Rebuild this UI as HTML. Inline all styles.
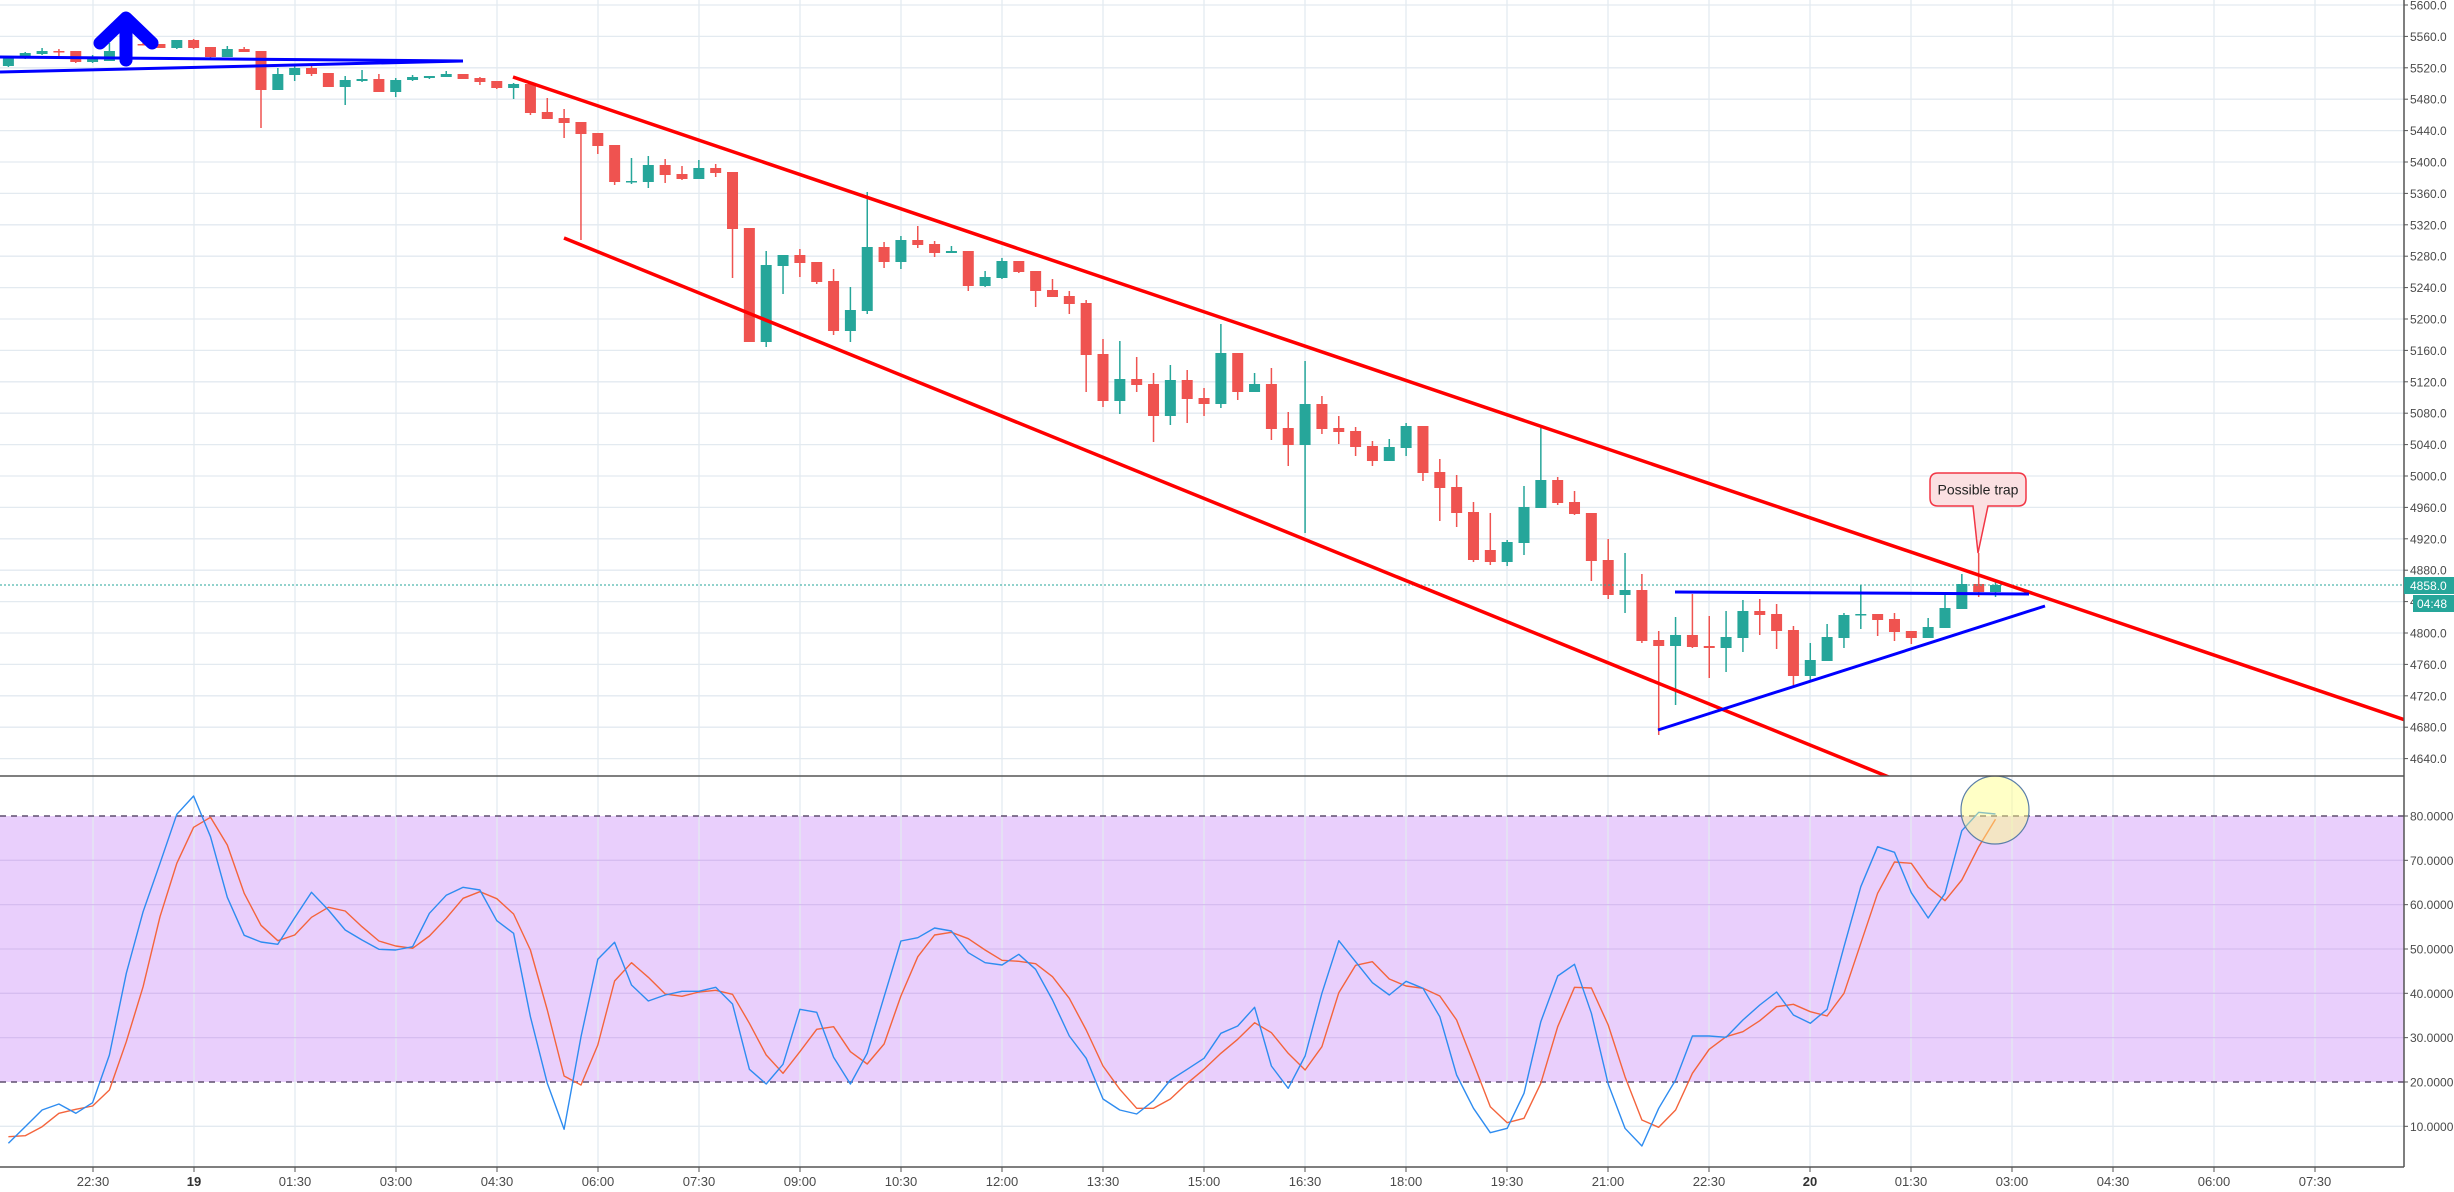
<!DOCTYPE html>
<html><head><meta charset="utf-8">
<style>
html,body{margin:0;padding:0;background:#fff;}
svg{display:block;font-family:"Liberation Sans",Arial,sans-serif;}
</style></head>
<body>
<svg id="c" width="2454" height="1192" xmlns="http://www.w3.org/2000/svg"></svg>
<script>
var s='';
var PX=function(p){return 476+(5000-p)*0.785;};
var SY=function(v){return 816+(80-v)*4.433;};
s+='<rect x="0" y="816" width="2404" height="266" fill="#e9cffc"/>';
for(var i=0;i<23;i++){var x=93+101*i;
 s+='<line x1="'+x+'" y1="0" x2="'+x+'" y2="1167" stroke="#e3eaf0" stroke-width="1.3"/>';}
for(var p=5600;p>=4640;p-=40){var y=PX(p);
 s+='<line x1="0" y1="'+y+'" x2="2404" y2="'+y+'" stroke="#e3eaf0" stroke-width="1.3"/>';
 s+='<line x1="2404" y1="'+y+'" x2="2408" y2="'+y+'" stroke="#555"/>';
 s+='<text x="2410" y="'+(y+4.5)+'" font-size="12" fill="#4a4a4a">'+p.toFixed(1)+'</text>';}
for(var v=10;v<=80;v+=10){var y=SY(v);
 if(v<80&&v>20) s+='<line x1="0" y1="'+y+'" x2="2404" y2="'+y+'" stroke="#d6bdf0" stroke-width="1.3"/>';
 if(v==10) s+='<line x1="0" y1="'+y+'" x2="2404" y2="'+y+'" stroke="#e3eaf0" stroke-width="1.3"/>';
 s+='<line x1="2404" y1="'+y+'" x2="2408" y2="'+y+'" stroke="#555"/>';
 s+='<text x="2410" y="'+(y+4.5)+'" font-size="12" fill="#4a4a4a">'+v.toFixed(4)+'</text>';}
s+='<line x1="0" y1="816" x2="2404" y2="816" stroke="#5f4f6e" stroke-width="1.5" stroke-dasharray="6,5"/>';
s+='<line x1="0" y1="1082" x2="2404" y2="1082" stroke="#5f4f6e" stroke-width="1.5" stroke-dasharray="6,5"/>';
var C=[[57,66,56,67,1],[53,58,52,59,1],[51,54,48,55,1],[51,52,49,56,0],[51,62,51,63,0],[59,62,55,63,1],[51,61,43,61,1],[44,52,40,53,1],[44,45,43,45,0],[44,48,44,48,0],
[40,48,40,49,1],[40,48,39,49,0],[47,57,47,58,0],[49,57,46,57,1],[49,52,47,52,0],[51,90,51,128,0],[74,90,68,90,1],[68,75,65,81,1],[68,74,66,76,0],[73,87,73,87,0],
[80,87,76,105,1],[79,81,70,82,1],[79,92,74,92,0],[80,92,78,97,1],[77,80,75,81,1],[76,78,76,79,1],[74,77,71,77,1],[74,79,74,79,0],[78,82,77,85,0],[81,88,81,89,0],
[84,88,83,99,1],[84,113,84,115,0],[112,119,98,119,0],[118,123,109,138,0],[122,134,122,240,0],[133,146,133,154,0],[145,182,145,185,0],[181,182,158,184,1],[165,182,156,188,1],[165,175,159,183,0],
[174,179,166,180,0],[168,179,160,179,1],[168,173,164,177,0],[172,229,172,278,0],[228,342,228,342,0],[265,342,251,347,1],[255,266,255,294,1],[255,263,249,277,0],[262,282,262,284,0],[281,331,269,335,0],
[310,331,287,342,1],[247,311,192,314,1],[247,262,242,268,0],[240,262,236,269,1],[240,245,226,248,0],[244,253,241,257,0],[251,253,246,253,1],[251,286,251,291,0],[277,286,271,287,1],[261,278,258,279,1],
[261,272,261,273,0],[271,291,271,307,0],[290,297,279,297,0],[296,304,291,314,0],[303,355,300,392,0],[354,401,339,407,0],[379,401,341,414,1],[379,385,357,392,0],[384,416,373,442,0],[380,416,365,425,1],
[380,399,370,423,0],[398,404,388,416,0],[353,404,324,408,1],[353,392,353,400,0],[384,392,373,392,1],[384,429,368,440,0],[428,445,412,466,0],[404,445,361,533,1],[404,429,396,434,0],[428,432,416,444,0],
[431,447,427,456,0],[446,461,441,466,0],[447,461,439,461,1],[426,448,423,456,1],[426,473,426,481,0],[472,488,459,521,0],[487,513,475,527,0],[512,560,502,562,0],[550,562,513,565,0],[542,562,540,566,1],
[507,543,486,555,1],[480,508,428,508,1],[480,503,477,505,0],[502,514,491,515,0],[513,561,513,581,0],[560,595,539,599,0],[590,595,553,613,1],[590,641,574,643,0],[640,646,631,735,0],[635,646,617,705,1],
[635,647,594,648,0],[646,648,616,678,0],[637,648,611,672,1],[611,638,600,652,1],[611,615,599,635,0],[614,631,604,649,0],[630,676,626,687,0],[660,676,643,681,1],[637,661,624,661,1],[615,638,613,648,1],
[614,615,585,629,1],[614,620,614,636,0],[619,632,613,641,0],[631,638,631,644,0],[627,638,618,638,1],[608,628,592,628,1],[584,609,574,609,1],[584,592,553,597,0],[585,592,580,597,1]];
for(var i=0;i<C.length;i++){var c=C[i],x=8.4+16.84*i,col=c[4]?'#26a69a':'#ef5350';
 s+='<line x1="'+x+'" y1="'+c[2]+'" x2="'+x+'" y2="'+c[3]+'" stroke="'+col+'" stroke-width="1.5"/>';
 var h=Math.max(c[1]-c[0],1.5);
 s+='<rect x="'+(x-5.5)+'" y="'+c[0]+'" width="11" height="'+h+'" fill="'+col+'"/>';}
s+='<line x1="0" y1="585" x2="2404" y2="585" stroke="#26a69a" stroke-width="1" stroke-dasharray="2,2"/>';
s+='<clipPath id="mp"><rect x="0" y="0" width="2404" height="776"/></clipPath>';
s+='<g clip-path="url(#mp)">';
s+='<line x1="513" y1="77" x2="2404" y2="719.6" stroke="#ff0000" stroke-width="3.5"/>';
s+='<line x1="564" y1="238" x2="1900" y2="781.6" stroke="#ff0000" stroke-width="3.5"/>';
s+='</g>';
s+='<line x1="1675" y1="592" x2="2029" y2="594" stroke="#0000ff" stroke-width="3"/>';
s+='<line x1="1658" y1="730" x2="2045" y2="606" stroke="#0000ff" stroke-width="3"/>';
s+='<line x1="0" y1="57" x2="463" y2="61" stroke="#0000ff" stroke-width="3"/>';
s+='<line x1="0" y1="72" x2="463" y2="61" stroke="#0000ff" stroke-width="3"/>';
s+='<g stroke="#0000ff" stroke-width="13" stroke-linecap="round" stroke-linejoin="round" fill="none">';
s+='<line x1="126" y1="60" x2="126" y2="24"/><polyline points="100,43 126,18 152,43"/></g>';
s+='<path d="M1938,473 H2018 Q2026,473 2026,481 V498 Q2026,506 2018,506 H1988 L1978,553 L1973,506 H1938 Q1930,506 1930,498 V481 Q1930,473 1938,473 Z" fill="#fbe0e2" stroke="#f23645" stroke-width="1.5"/>';
s+='<text x="1978" y="494.5" font-size="14" fill="#222" text-anchor="middle">Possible trap</text>';
var B=[1090,1040,990,972,1000,968,825,580,395,250,103,48,170,352,466,486,493,413,337,390,450,480,508,510,500,400,346,322,330,422,460,710,910,1048,770,538,487,615,663,645,634,634,622,672,868,912,853,688,697,
832,912,820,650,483,473,444,453,518,548,555,523,568,660,768,835,957,990,1002,962,900,868,835,760,738,682,858,925,828,640,482,545,608,645,604,625,710,885,985,1058,1045,940,725,588,553,700,912,1045,1098,985,900,768,768,772,720,675,636,705,730,688,500,320,200,217,338,414,340,152,97,102];
var R=[1070,1067,1040,1000,988,978,930,785,620,410,250,142,112,195,340,436,482,465,412,382,393,440,483,498,505,468,415,355,335,356,402,510,690,888,915,795,603,548,592,642,649,636,631,643,730,825,880,815,748,
740,815,852,792,648,530,465,457,476,510,541,544,551,590,655,750,858,928,985,985,957,910,868,820,778,728,758,820,870,800,638,556,545,597,618,625,648,720,850,980,1028,1015,910,740,622,624,735,890,1020,1042,990,880,808,770,755,722,680,673,695,708,640,490,340,246,250,322,362,300,200,118];
function pl(a,col){var pts=[];for(var i=0;i<a.length;i++)pts.push((8.4+16.84*i).toFixed(1)+','+(780+a[i]/3).toFixed(1));
 return '<polyline points="'+pts.join(' ')+'" fill="none" stroke="'+col+'" stroke-width="1.4" stroke-linejoin="round"/>';}
s+=pl(R,'#f4643c');
s+=pl(B,'#2e8cf0');
s+='<clipPath id="sp"><rect x="0" y="776" width="2404" height="390"/></clipPath>';
s+='<circle cx="1995" cy="810" r="34" fill="#ffff80" fill-opacity="0.45" stroke="#5b7fa8" stroke-width="1.2" clip-path="url(#sp)"/>';
s+='<line x1="0" y1="776" x2="2404" y2="776" stroke="#555" stroke-width="1.5"/>';
s+='<line x1="0" y1="1167" x2="2404" y2="1167" stroke="#555" stroke-width="1.5"/>';
s+='<line x1="2404" y1="0" x2="2404" y2="1167" stroke="#555" stroke-width="1.5"/>';
s+='<rect x="2404" y="577" width="50" height="17" fill="#26a69a"/>';
s+='<text x="2410" y="590" font-size="12" fill="#fff">4858.0</text>';
s+='<rect x="2413" y="595" width="41" height="17" fill="#26a69a"/>';
s+='<text x="2417" y="608" font-size="12" fill="#fff">04:48</text>';
var T=["22:30","19","01:30","03:00","04:30","06:00","07:30","09:00","10:30","12:00","13:30","15:00","16:30","18:00","19:30","21:00","22:30","20","01:30","03:00","04:30","06:00","07:30"];
for(var i=0;i<T.length;i++){var x=93+101*i,b=(T[i]=="19"||T[i]=="20");
 s+='<line x1="'+x+'" y1="1167" x2="'+x+'" y2="1172" stroke="#555"/>';
 s+='<text x="'+x+'" y="1186" font-size="13" text-anchor="middle" fill="'+(b?'#333':'#4a4a4a')+'"'+(b?' font-weight="bold"':'')+'>'+T[i]+'</text>';}
document.getElementById('c').innerHTML=s;
</script>
</body></html>
